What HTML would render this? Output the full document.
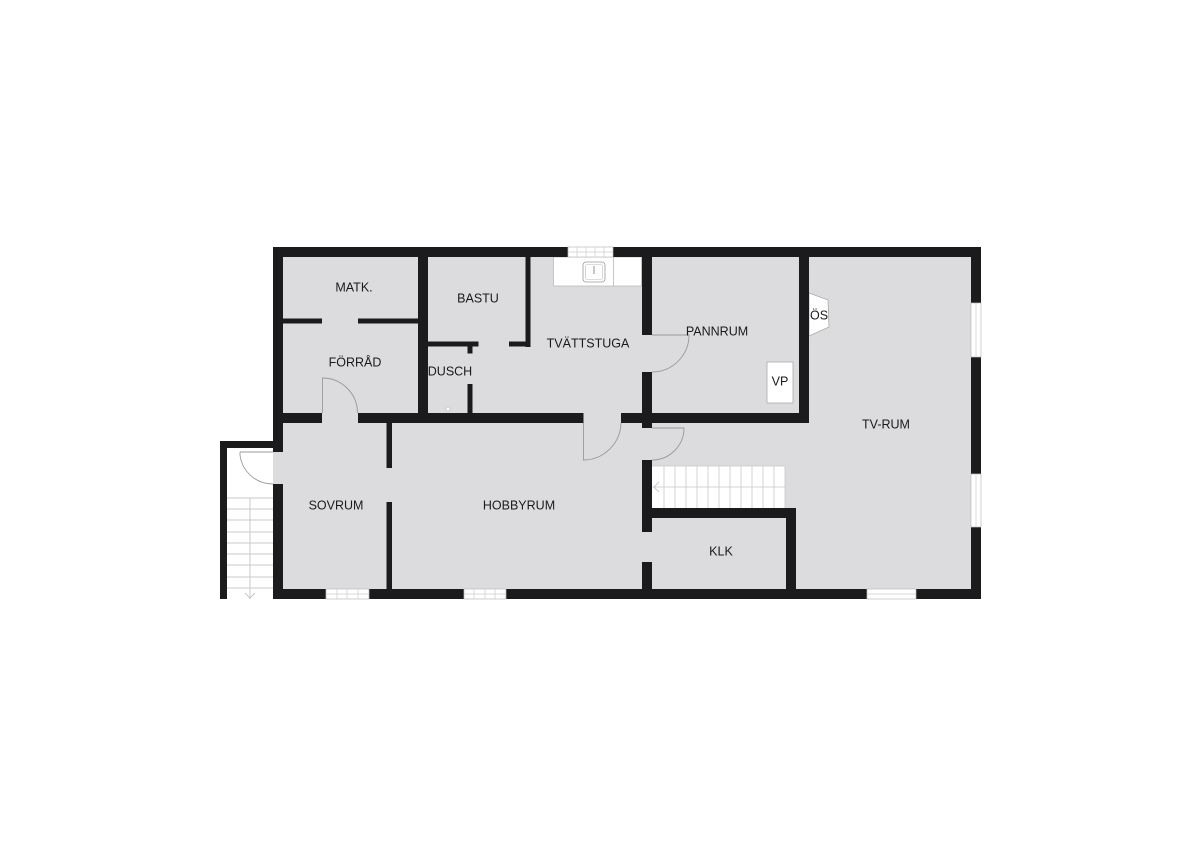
<!DOCTYPE html>
<html><head><meta charset="utf-8"><style>
html,body{margin:0;padding:0;background:#fff;}
svg{display:block;}
text{font-family:"Liberation Sans",Arial,sans-serif;font-size:12.5px;fill:#1a1a1a;text-anchor:middle;dominant-baseline:middle;}
</style></head><body>
<svg width="1200" height="848" viewBox="0 0 1200 848" xmlns="http://www.w3.org/2000/svg">
<rect width="1200" height="848" fill="#fff"/>
<rect x="273" y="247" width="708" height="352" fill="#dcdcde"/>
<rect x="220" y="441" width="53" height="158" fill="#fff"/>
<g stroke="#c8c8c8" stroke-width="1">
<line x1="250" y1="498" x2="250" y2="599"/>
<line x1="227" y1="498" x2="273" y2="498"/><line x1="227" y1="509" x2="273" y2="509"/>
<line x1="227" y1="520" x2="273" y2="520"/><line x1="227" y1="532" x2="273" y2="532"/>
<line x1="227" y1="543" x2="273" y2="543"/><line x1="227" y1="554" x2="273" y2="554"/>
<line x1="227" y1="565" x2="273" y2="565"/><line x1="227" y1="577" x2="273" y2="577"/>
<line x1="227" y1="588" x2="273" y2="588"/>
</g>
<path d="M245 593 L250 598 L255 593" fill="none" stroke="#bbb" stroke-width="0.8"/>
<rect x="553.5" y="257" width="88" height="29" fill="#fff" stroke="#bbb" stroke-width="0.8"/>
<line x1="613.5" y1="257" x2="613.5" y2="286" stroke="#bbb" stroke-width="0.8"/>
<rect x="583" y="262" width="22" height="20" rx="3" fill="#fff" stroke="#999" stroke-width="0.8"/>
<rect x="585.5" y="264.5" width="17" height="15" rx="2" fill="none" stroke="#bbb" stroke-width="0.6"/>
<line x1="594" y1="266" x2="594" y2="274" stroke="#777" stroke-width="0.8"/>
<rect x="652" y="466" width="133" height="42" fill="#fff"/>
<g stroke="#c8c8c8" stroke-width="0.8">
<line x1="652" y1="466" x2="785" y2="466"/><line x1="652" y1="487" x2="785" y2="487"/>
<line x1="664" y1="466" x2="664" y2="508"/><line x1="675" y1="466" x2="675" y2="508"/>
<line x1="686" y1="466" x2="686" y2="508"/><line x1="697" y1="466" x2="697" y2="508"/>
<line x1="708" y1="466" x2="708" y2="508"/><line x1="719" y1="466" x2="719" y2="508"/>
<line x1="730" y1="466" x2="730" y2="508"/><line x1="741" y1="466" x2="741" y2="508"/>
<line x1="752" y1="466" x2="752" y2="508"/><line x1="763" y1="466" x2="763" y2="508"/>
<line x1="774" y1="466" x2="774" y2="508"/><line x1="785" y1="466" x2="785" y2="508"/>
</g>
<path d="M659 482 L654 487 L659 492" fill="none" stroke="#bbb" stroke-width="0.8"/>
<rect x="767" y="362" width="26" height="41" fill="#fff" stroke="#aaa" stroke-width="0.8"/>
<polygon points="809,293 828,300 829,327 809,336" fill="#fff" stroke="#aaa" stroke-width="0.8"/>
<g fill="#1b1b1d">
<rect x="273" y="247" width="295" height="10"/>
<rect x="613" y="247" width="368" height="10"/>
<rect x="273" y="247" width="10" height="205"/>
<rect x="273" y="484" width="10" height="115"/>
<rect x="220" y="441" width="63" height="7"/>
<rect x="220" y="441" width="7" height="158"/>
<rect x="971" y="247" width="10" height="56"/>
<rect x="971" y="357" width="10" height="117"/>
<rect x="971" y="527" width="10" height="72"/>
<rect x="273" y="589" width="53" height="10"/>
<rect x="369" y="589" width="95" height="10"/>
<rect x="506" y="589" width="361" height="10"/>
<rect x="916" y="589" width="65" height="10"/>
<rect x="418" y="247" width="10" height="176"/>
<rect x="283" y="318.5" width="39" height="5"/>
<rect x="358" y="318.5" width="60" height="5"/>
<rect x="283" y="413" width="39" height="10"/>
<rect x="358" y="413" width="225.5" height="10"/>
<rect x="621" y="413" width="188" height="10"/>
<rect x="642" y="247" width="10" height="88"/>
<rect x="642" y="372" width="10" height="56"/>
<rect x="642" y="460" width="10" height="72"/>
<rect x="642" y="562" width="10" height="37"/>
<rect x="799" y="247" width="10" height="176"/>
<rect x="525.5" y="247" width="5" height="100"/>
<rect x="509" y="341.5" width="21" height="5"/>
<rect x="428" y="341.5" width="50.5" height="5"/>
<rect x="467.5" y="346" width="5" height="7.5"/>
<rect x="467.5" y="384" width="5" height="29"/>
<rect x="386.5" y="423" width="5.5" height="45"/>
<rect x="386.5" y="502" width="5.5" height="87"/>
<rect x="642" y="508" width="154" height="10"/>
<rect x="786" y="508" width="10" height="91"/>
</g>
<g fill="#fff" stroke="#bbb" stroke-width="0.7">
<rect x="568" y="247" width="45" height="10"/>
<rect x="326" y="589" width="43" height="10"/>
<rect x="464" y="589" width="42" height="10"/>
<rect x="971" y="303" width="10" height="54"/>
<rect x="971" y="474" width="10" height="53"/>
<rect x="867" y="589" width="49" height="10"/>
</g>
<g stroke="#ccc" stroke-width="0.7">
<line x1="568" y1="252" x2="613" y2="252"/>
<line x1="577" y1="247" x2="577" y2="257"/><line x1="586" y1="247" x2="586" y2="257"/><line x1="595" y1="247" x2="595" y2="257"/><line x1="604" y1="247" x2="604" y2="257"/>
<line x1="326" y1="594" x2="369" y2="594"/>
<line x1="337" y1="589" x2="337" y2="599"/><line x1="347" y1="589" x2="347" y2="599"/><line x1="358" y1="589" x2="358" y2="599"/>
<line x1="464" y1="594" x2="506" y2="594"/>
<line x1="474" y1="589" x2="474" y2="599"/><line x1="485" y1="589" x2="485" y2="599"/><line x1="495" y1="589" x2="495" y2="599"/>
<line x1="976" y1="303" x2="976" y2="357"/><line x1="976" y1="474" x2="976" y2="527"/>
<line x1="867" y1="594" x2="916" y2="594"/>
</g>
<g fill="none" stroke="#999" stroke-width="0.9">
<path d="M322.5 413 L322.5 378 A35 35 0 0 1 357.5 413"/>
<path d="M583.5 423 L583.5 460 A38 38 0 0 0 621 423"/>
<path d="M652 335 L689 335 A37 37 0 0 1 652 372"/>
<path d="M652 428 L684 428 A32 32 0 0 1 652 460"/>
<path d="M240 452 L240 455 A33 33 0 0 0 273 484"/>
<line x1="240" y1="452" x2="273" y2="452"/>
</g>
<circle cx="448" cy="409" r="2" fill="#fff" stroke="#aaa" stroke-width="0.6"/>
<text x="354" y="288">MATK.</text>
<text x="478" y="299">BASTU</text>
<text x="588" y="344">TVÄTTSTUGA</text>
<text x="355" y="363">FÖRRÅD</text>
<text x="450" y="372">DUSCH</text>
<text x="717" y="332">PANNRUM</text>
<text x="780" y="382">VP</text>
<text x="819" y="316">ÖS</text>
<text x="886" y="425">TV-RUM</text>
<text x="336" y="506">SOVRUM</text>
<text x="519" y="506">HOBBYRUM</text>
<text x="721" y="552">KLK</text>
</svg>
</body></html>
